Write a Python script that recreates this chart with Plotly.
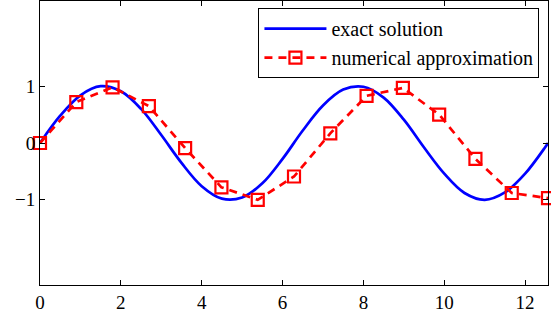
import plotly.graph_objects as go

# exact solution, every 0.5 (last point at 4*pi)
exact_t = [0, 0.5, 1, 1.5, 2, 2.5, 3, 3.5, 4, 4.5, 5, 5.5, 6, 6.5, 7, 7.5,
           8, 8.5, 9, 9.5, 10, 10.5, 11, 11.5, 12, 12.5, 12.566]
exact_y = [0, 0.48, 0.84, 1.0, 0.91, 0.6, 0.14, -0.35, -0.76, -0.98, -0.96,
           -0.71, -0.28, 0.22, 0.66, 0.94, 0.99, 0.8, 0.41, -0.08, -0.54,
           -0.88, -1.0, -0.87, -0.54, -0.07, 0]

# numerical approximation (square markers)
num_t = [0, 0.898, 1.795, 2.693, 3.590, 4.488, 5.386, 6.283, 7.181, 8.078,
         8.976, 9.874, 10.771, 11.669, 12.566]
num_y = [0, 0.72, 0.98, 0.65, -0.09, -0.78, -1.0, -0.59, 0.17, 0.83,
         0.97, 0.50, -0.28, -0.88, -0.97]

serif = "Liberation Serif"

fig = go.Figure()

fig.add_trace(go.Scatter(
    x=exact_t, y=exact_y,
    mode="lines",
    line_shape="spline",
    name="exact solution",
    line=dict(color="#0000ff", width=2.7)
))

fig.add_trace(go.Scatter(
    x=num_t, y=num_y,
    mode="lines+markers",
    name="numerical approximation",
    line=dict(color="#ff0000", width=2.7, dash="8px,6px"),
    marker=dict(symbol="square-open", size=12, color="#ff0000",
                line=dict(width=2.2, color="#ff0000")),
    cliponaxis=False
))

axis_style = dict(
    showline=True, linecolor="black", linewidth=1, mirror="ticks",
    ticks="inside", ticklen=5, tickcolor="black",
    showgrid=False, zeroline=False, automargin=False,
    tickfont=dict(family=serif, size=19, color="black"),
)

fig.update_xaxes(range=[0, 12.566], tickvals=[0, 2, 4, 6, 8, 10, 12], **axis_style)
fig.update_yaxes(range=[-2.5, 2.5], tickvals=[-1, 0, 1],
                 ticktext=["\u22121", "0", "1"], **axis_style)

fig.update_layout(
    width=551, height=320,
    margin=dict(l=40, r=3, t=1, b=35),
    paper_bgcolor="white", plot_bgcolor="white",
    font=dict(family=serif, color="black"),
    showlegend=True,
    legend=dict(
        x=0.43, y=0.975, xanchor="left", yanchor="top",
        bgcolor="white", bordercolor="black", borderwidth=1,
        font=dict(family=serif, size=20, color="black"),
        tracegroupgap=0, itemwidth=62,
    ),
)

fig.write_html("out.html", config={"displayModeBar": False},
               post_script="document.body.style.margin='0';")
